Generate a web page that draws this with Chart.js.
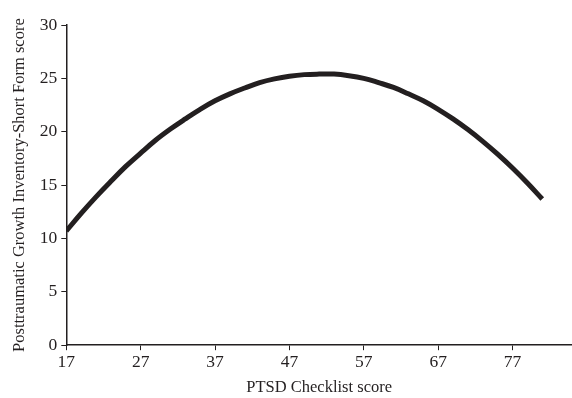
<!DOCTYPE html>
<html>
<head>
<meta charset="utf-8">
<script src="https://cdn.jsdelivr.net/npm/chart.js@4.4.1/dist/chart.umd.min.js"></script>
<style>
  html, body { margin: 0; padding: 0; background: #fff; }
  #wrap { width: 572px; height: 398px; }
</style>
</head>
<body>
<div id="wrap"><canvas id="myChart"></canvas></div>
<script>
// PTSD checklist score (x) vs PTGI-SF score (y)
var pclScores = [17, 19, 21, 23, 25, 27, 29, 31, 33, 35, 37, 39, 41, 43, 45, 47, 49,
                 51, 53, 55, 57, 59, 61, 63, 65, 67, 69, 71, 73, 75, 77, 79, 81];
var ptgiScores = [10.7, 12.35, 13.9, 15.35, 16.75, 18.0, 19.2, 20.25, 21.2, 22.1, 22.9, 23.55, 24.1, 24.6, 24.95, 25.2, 25.35,
                  25.4, 25.4, 25.25, 25.0, 24.6, 24.15, 23.55, 22.9, 22.1, 21.2, 20.2, 19.1, 17.9, 16.6, 15.2, 13.7];
var xTicks = [17, 27, 37, 47, 57, 67, 77];
var yTicks = [0, 5, 10, 15, 20, 25, 30];

var points = pclScores.map(function(x, i) { return { x: x, y: ptgiScores[i] }; });

var tickFont = { family: "'Liberation Serif', 'Times New Roman', serif", size: 17.5 };
var titleFont = { family: "'Liberation Serif', 'Times New Roman', serif", size: 16.5 };

new Chart(document.getElementById('myChart'), {
  type: 'line',
  data: {
    datasets: [{
      data: points,
      borderColor: '#231f20',
      borderWidth: 5,
      pointRadius: 0,
      fill: false,
      tension: 0.4
    }]
  },
  options: {
    responsive: true,
    maintainAspectRatio: false,
    animation: false,
    layout: { padding: { top: 25, right: 0, left: 6, bottom: 0 } },
    plugins: { legend: { display: false }, tooltip: { enabled: false } },
    scales: {
      x: {
        type: 'linear',
        min: 17,
        max: 85,
        afterBuildTicks: function(axis) {
          axis.ticks = xTicks.map(function(v) { return { value: v }; });
        },
        grid: { drawOnChartArea: false, drawTicks: true, tickLength: 5, color: '#231f20' },
        border: { color: '#231f20', width: 1.5 },
        ticks: { color: '#231f20', font: tickFont, padding: 2, maxRotation: 0 },
        title: { display: true, text: 'PTSD Checklist score', color: '#231f20', font: titleFont, padding: { top: 3, bottom: 0 } }
      },
      y: {
        min: 0,
        max: 30,
        afterBuildTicks: function(axis) {
          axis.ticks = yTicks.map(function(v) { return { value: v }; });
        },
        grid: { drawOnChartArea: false, drawTicks: true, tickLength: 5, color: '#231f20' },
        border: { color: '#231f20', width: 1.5 },
        ticks: { color: '#231f20', font: tickFont, padding: 4 },
        title: { display: true, text: 'Posttraumatic Growth Inventory-Short Form score', color: '#231f20', font: titleFont, padding: { bottom: 6 } }
      }
    }
  }
});
</script>
</body>
</html>
